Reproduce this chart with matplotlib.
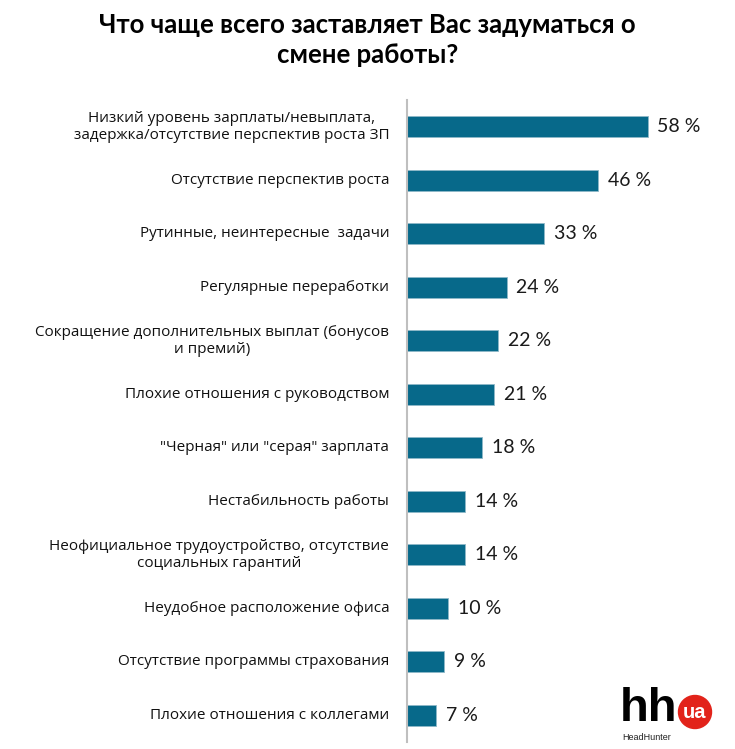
import matplotlib.pyplot as plt
from matplotlib.patches import Ellipse

# Data
labels = [
    'Низкий уровень зарплаты/невыплата,\nзадержка/отсутствие перспектив роста ЗП',
    'Отсутствие перспектив роста',
    'Рутинные, неинтересные  задачи',
    'Регулярные переработки',
    'Сокращение дополнительных выплат (бонусов\nи премий)',
    'Плохие отношения с руководством',
    '"Черная" или "серая" зарплата',
    'Нестабильность работы',
    'Неофициальное трудоустройство, отсутствие\nсоциальных гарантий',
    'Неудобное расположение офиса',
    'Отсутствие программы страхования',
    'Плохие отношения с коллегами',
]
values = [58, 46, 33, 24, 22, 21, 18, 14, 14, 10, 9, 7]

bar_color = '#07698A'

fig = plt.figure(figsize=(7.35, 7.49), dpi=100)
ax = fig.add_axes([0.5537, 0.0093, 0.395, 0.8572])

pos = list(range(len(values)))
ax.barh(pos, values, height=0.39, color=bar_color, edgecolor='#8FB8C8', linewidth=0.6)
ax.set_ylim(len(values) - 0.5, -0.5)
ax.set_xlim(0, 70)

# value labels
for p, v in zip(pos, values):
    ax.text(v + 2.4, p, f'{v} %', va='center', ha='left', fontsize=14,
            family='Lato', color='#1a1a1a')

# category labels
for p, lab in zip(pos, labels):
    ax.text(-4.3, p, lab, va='center', ha='right', multialignment='center',
            fontsize=11, family='Open Sans', color='#111111', linespacing=1.2)

for s in ['top', 'right', 'bottom']:
    ax.spines[s].set_visible(False)
ax.spines['left'].set_color('#BFBFBF')
ax.spines['left'].set_linewidth(1.5)
ax.set_xticks([])
ax.set_yticks([])

# title
fig.text(0.5, 1 - 40 / 749, 'Что чаще всего заставляет Вас задуматься о\nсмене работы?',
         ha='center', va='center', fontsize=18.5, fontweight='bold', family='Lato',
         linespacing=1.3)

# HeadHunter logo
fig.text(620 / 735, 1 - 721 / 749, 'hh', ha='left', va='baseline', fontsize=34,
         fontweight='bold', family='Liberation Sans', color='black')
fig.text(622 / 735, 1 - 740 / 749, 'HeadHunter', ha='left', va='baseline', fontsize=6.5,
         family='Liberation Sans', color='#222222')
fig.patches.append(Ellipse((695 / 735, 1 - 712 / 749), 33 / 735, 33 / 749,
                           transform=fig.transFigure, color='#E2231A'))
fig.text(695 / 735, 1 - 713 / 749, 'ua', ha='center', va='center', fontsize=14.5,
         fontweight='bold', family='Liberation Sans', color='white')

plt.savefig('out.png', dpi=100)
